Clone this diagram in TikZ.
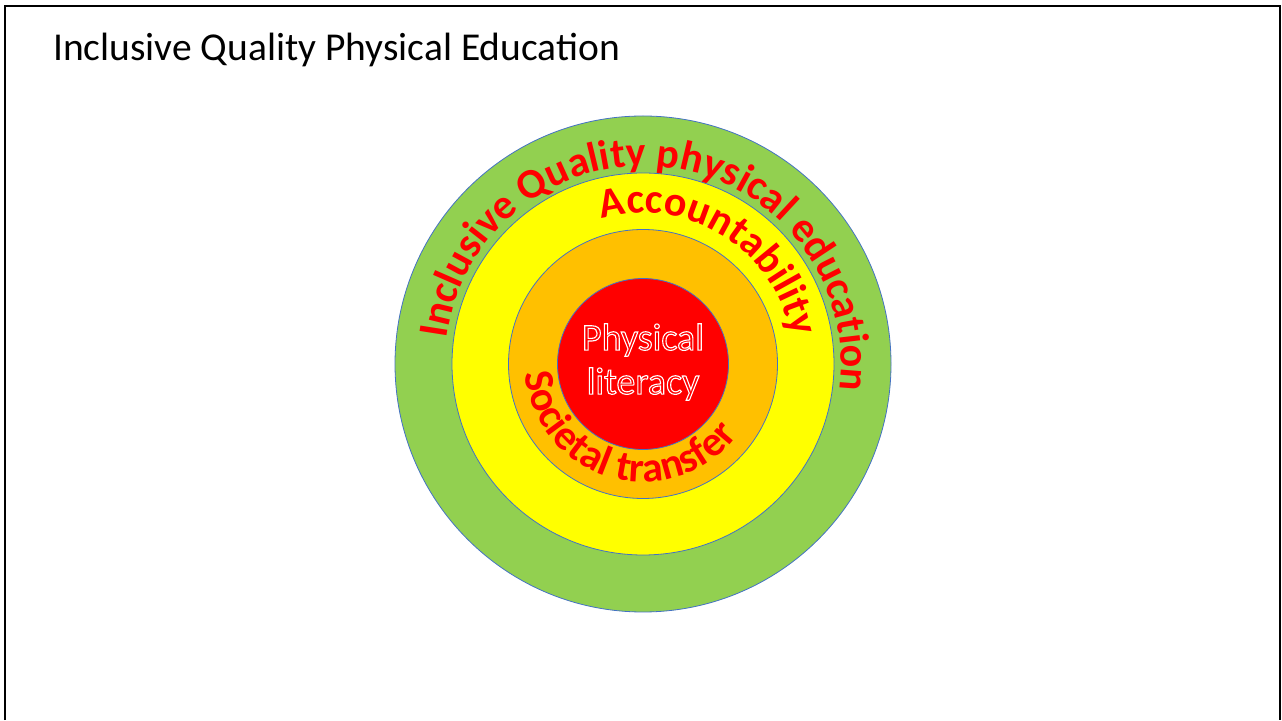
\documentclass[tikz,border=0pt]{standalone}
\usepackage{fontspec}
\setmainfont{Carlito}
\usetikzlibrary{decorations.text}
\definecolor{ringgreen}{HTML}{92D050}
\definecolor{ringyellow}{HTML}{FFFF00}
\definecolor{ringorange}{HTML}{FFC000}
\definecolor{ringred}{HTML}{FF0000}
\definecolor{ringline}{HTML}{4472C4}
\newcommand{\outlinedword}[1]{{\color{ringred}\special{pdf:literal direct 2 Tr 1 1 1 RG 1.1 w}#1\special{pdf:literal direct 0 Tr}}}
\begin{document}
\begin{tikzpicture}[x=1pt,y=1pt,
  ring/.style={circle, draw=ringline, line width=0.8pt, inner sep=0pt},
  ringtext/.style={decorate, decoration={text along path, text align=center, text color=ringred}}]
\useasboundingbox (0,0) rectangle (1282,720);
\draw[line width=2.5pt] (5,0) -- (5,714) -- (1280,714) -- (1280,0);
\node[anchor=base west, inner sep=0pt] (title) at (53,659)
  {\fontsize{39.5}{48}\selectfont Inclusive Quality Physical Education};
\coordinate (c) at (643,356);
\node[ring, fill=ringgreen, minimum size=496pt] (green) at (c) {};
\node[ring, fill=ringyellow, minimum size=382pt] (yellow) at (c) {};
\node[ring, fill=ringorange, minimum size=269pt] (orange) at (c) {};
\node[ring, fill=ringred, minimum size=171pt] (red) at (c) {};
\path[ringtext, decoration={text={|\fontsize{42}{50}\selectfont\bfseries|Inclusive Quality physical education}}]
  (c) ++(262.5:198) arc[start angle=262.5, end angle=-97.5, radius=198];
\path[ringtext, decoration={text={|\fontsize{42}{50}\selectfont\bfseries|Accountability}}]
  (c) ++(200:151) arc[start angle=200, end angle=-84, radius=151];
\path[ringtext, decoration={text={|\fontsize{42}{50}\selectfont\bfseries|Societal transfer}}]
  (c) ++(104:118) arc[start angle=104, end angle=404, radius=118];
\node[align=center, inner sep=0pt, font=\fontsize{38}{44}\selectfont] (pl) at (643,358)
  {\outlinedword{Physical}\\\outlinedword{literacy}};
\end{tikzpicture}
\end{document}
